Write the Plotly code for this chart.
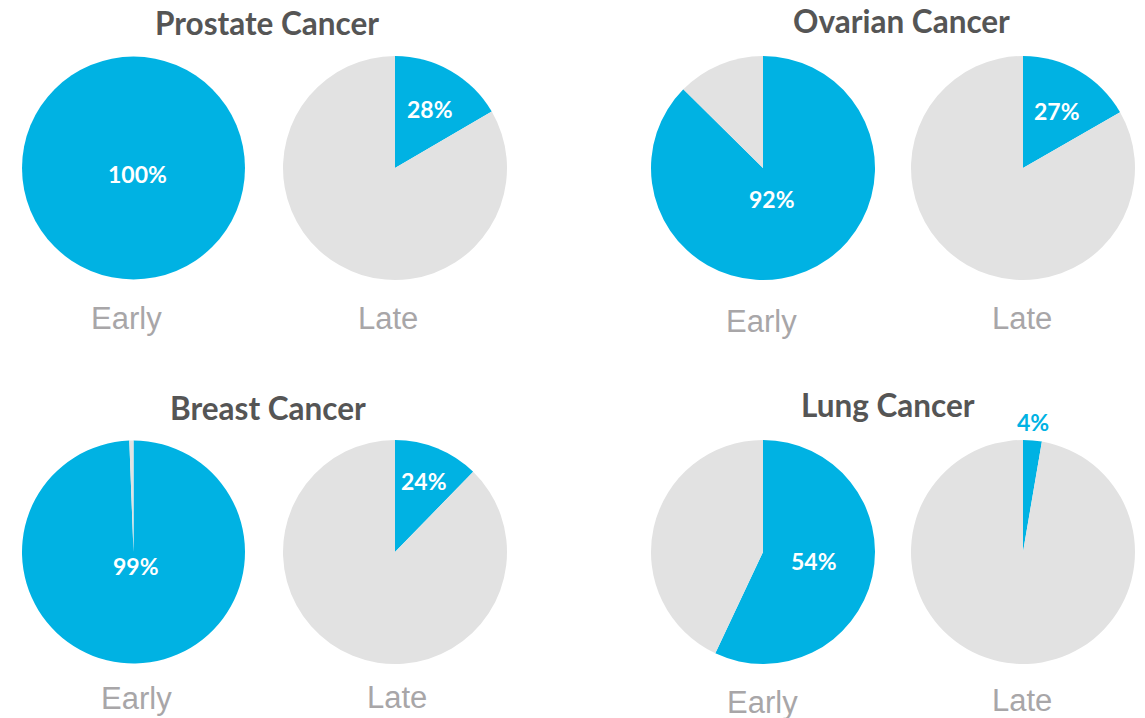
import plotly.graph_objects as go

# ---- data ----
cancers = ["Prostate Cancer", "Ovarian Cancer", "Breast Cancer", "Lung Cancer"]
stages = ["Early", "Late"]
# percentage labels printed on the chart
early_label = [100, 92, 99, 54]
late_label = [28, 27, 24, 4]
# blue wedge share as drawn in the picture (percent of the circle)
early_wedge = [100.0, 87.4, 99.4, 57.0]
late_wedge = [16.6, 16.7, 12.3, 2.7]

# ---- style / layout ----
W, H = 1145, 718
BLUE = "#00B2E3"
GREY = "#E2E2E2"
TITLE_C = "#555555"
STAGE_C = "#A8A6A8"

# pixel boxes of each panel (left pie x-range, right pie x-range, y-range)
panel_boxes = [
    ((22, 245), (283, 507), (55, 281)),
    ((651, 875), (911, 1135), (55, 281)),
    ((22, 245), (283, 507), (439, 665)),
    ((651, 875), (911, 1135), (439, 665)),
]
title_pos = [(267, 23), (901, 21), (268, 408), (888, 405)]
stage_pos = [((126, 318), (388, 318)), ((761, 321), (1022, 319)),
             ((136, 698), (397, 697)), ((762, 702), (1022, 700))]
pct_pos = [((137, 174), (430, 109)), ((772, 199), (1057, 111)),
           ((136, 566), (424, 481)), ((814, 561), (1033, 422))]


def px(x):
    return x / W


def py(y):
    return 1 - y / H


fig = go.Figure()
annotations = []

for i, name in enumerate(cancers):
    xl, xr, yr = panel_boxes[i]
    for j, (xs, wedge, lab) in enumerate([(xl, early_wedge[i], early_label[i]),
                                          (xr, late_wedge[i], late_label[i])]):
        fig.add_trace(go.Pie(
            values=[wedge, 100 - wedge],
            labels=["Detected", "Not detected"],
            marker=dict(colors=[BLUE, GREY], line=dict(width=0)),
            sort=False,
            direction="clockwise",
            rotation=0,
            textinfo="none",
            hoverinfo="skip",
            domain=dict(x=[px(xs[0]), px(xs[1])], y=[py(yr[1]), py(yr[0])]),
        ))
        # percentage label
        lx, ly = pct_pos[i][j]
        annotations.append(dict(
            x=px(lx), y=py(ly), xref="paper", yref="paper",
            text=f"<b>{lab}%</b>", showarrow=False,
            font=dict(family="Lato", size=23,
                      color=BLUE if (wedge < 5) else "white"),
            xanchor="center", yanchor="middle",
        ))
        # stage label
        sx, sy = stage_pos[i][j]
        annotations.append(dict(
            x=px(sx), y=py(sy), xref="paper", yref="paper",
            text=stages[j], showarrow=False,
            font=dict(family="Liberation Sans", size=31, color=STAGE_C),
            xanchor="center", yanchor="middle",
        ))
    tx, ty = title_pos[i]
    annotations.append(dict(
        x=px(tx), y=py(ty), xref="paper", yref="paper",
        text=f"<b>{name}</b>", showarrow=False,
        font=dict(family="Lato", size=31.5, color=TITLE_C),
        xanchor="center", yanchor="middle",
    ))

fig.update_layout(
    width=W, height=H,
    margin=dict(l=0, r=0, t=0, b=0),
    paper_bgcolor="white",
    plot_bgcolor="white",
    showlegend=False,
    annotations=annotations,
)

fig.write_html(
    "out.html",
    config={"displayModeBar": False},
    post_script="document.body.style.margin='0px';document.body.style.overflow='hidden';",
)
